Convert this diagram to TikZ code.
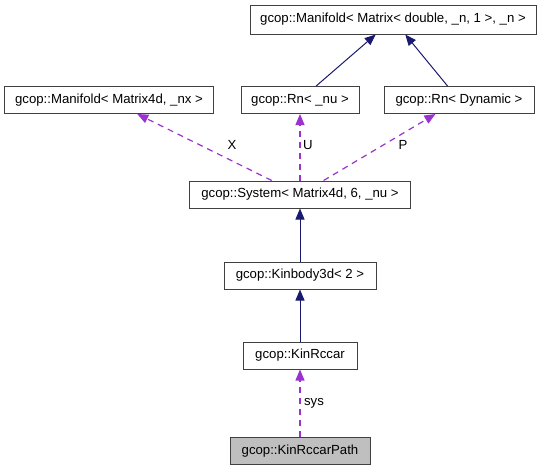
\documentclass[tikz,border=0pt]{standalone}
\usepackage{fontspec}
\setmainfont{Liberation Sans}
\usetikzlibrary{arrows.meta}
\definecolor{edgeblue}{HTML}{191970}
\definecolor{edgepurple}{HTML}{9A32CD}
\definecolor{boxline}{HTML}{404040}
\definecolor{boxgray}{HTML}{BFBFBF}
\begin{document}
\begin{tikzpicture}[x=1pt,y=-1pt,
  cls/.style={draw=boxline,line width=1pt,fill=white,inner sep=0pt,
    minimum height=27pt,font=\fontsize{13.2}{15}\selectfont},
  inh/.style={draw=edgeblue,line width=1pt,-{Triangle[length=11pt,width=9pt]}},
  use/.style={draw=edgepurple,line width=1.2pt,dash pattern=on 6pt off 5pt,
    -{Triangle[length=11pt,width=9pt]}},
  lbl/.style={inner sep=0pt,font=\fontsize{13.2}{15}\selectfont}]
\useasboundingbox (0,0) rectangle (544,472);
\node[cls,minimum width=286pt,minimum height=29pt] (top) at (393,19.5) {gcop::Manifold< Matrix< double, \_n, 1 >, \_n >};
\node[cls,minimum width=209pt] (m4d) at (109,100) {gcop::Manifold< Matrix4d, \_nx >};
\node[cls,minimum width=118pt] (rnu) at (300,100) {gcop::Rn< \_nu >};
\node[cls,minimum width=150pt] (rdyn) at (459,100) {gcop::Rn< Dynamic >};
\node[cls,minimum width=221pt] (sys) at (300,194.5) {gcop::System< Matrix4d, 6, \_nu >};
\node[cls,minimum width=152pt] (kin) at (300,275.5) {gcop::Kinbody3d< 2 >};
\node[cls,minimum width=114pt] (rccar) at (300,355.5) {gcop::KinRccar};
\node[cls,fill=boxgray,minimum width=140pt] (path) at (300,451) {gcop::KinRccarPath};
\draw[inh] (rnu) -- (top);
\draw[inh] (rdyn) -- (top);
\draw[use] (sys) -- (m4d);
\draw[use] (sys.north) -- (rnu.south);
\draw[use] (sys) -- (rdyn);
\draw[inh] (kin.north) -- (sys.south);
\draw[inh] (rccar.north) -- (kin.south);
\draw[use] (path.north) -- (rccar.south);
\node[lbl] (lx) at (232,145) {X};
\node[lbl] (lu) at (308,145) {U};
\node[lbl] (lp) at (403,145) {P};
\node[lbl] (ls) at (314,403) {sys};
\end{tikzpicture}
\end{document}
